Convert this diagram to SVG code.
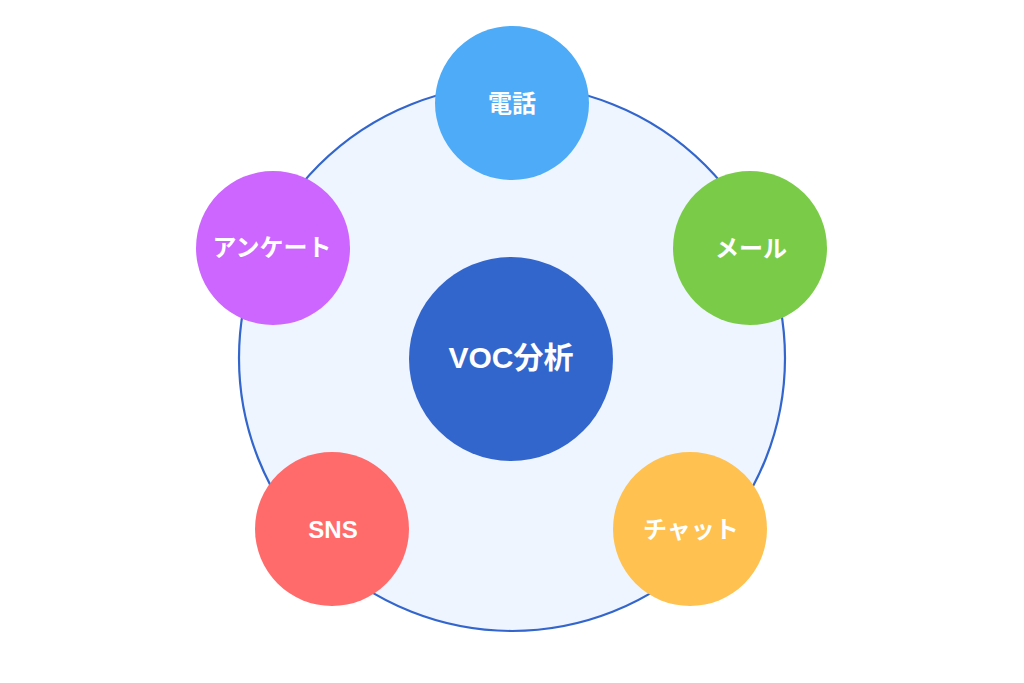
<svg xmlns="http://www.w3.org/2000/svg" width="1024" height="683" viewBox="0 0 1024 683">
<style>
.lbl{font-family:"Liberation Sans","Noto Sans CJK JP",sans-serif;font-weight:bold;fill:#ffffff;text-anchor:middle;dominant-baseline:central}
.sat{font-size:24px}
</style>
<rect width="1024" height="683" fill="#ffffff"/>
<g id="connectors"></g>
<g id="ring">
<circle cx="512" cy="358" r="273" fill="#EEF5FF" stroke="#3366CC" stroke-width="2.2"/>
</g>
<g id="center">
<circle cx="511" cy="359" r="102" fill="#3366CC"/>
<text class="lbl" x="511" y="357" font-size="30">VOC分析</text>
</g>
<g id="phone">
<circle cx="512" cy="103" r="77" fill="#4DABF7"/>
<text class="lbl sat" x="512" y="103">電話</text>
</g>
<g id="mail">
<circle cx="750" cy="248" r="77" fill="#7ACC48"/>
<text class="lbl sat" x="751" y="248">メール</text>
</g>
<g id="chat">
<circle cx="690" cy="529" r="77" fill="#FFC14F"/>
<text class="lbl sat" x="691" y="529">チャット</text>
</g>
<g id="sns">
<circle cx="332" cy="529" r="77" fill="#FF6B6B"/>
<text class="lbl sat" x="333" y="529">SNS</text>
</g>
<g id="survey">
<circle cx="273" cy="248" r="77" fill="#CC66FF"/>
<text class="lbl sat" x="272" y="247">アンケート</text>
</g>
</svg>
